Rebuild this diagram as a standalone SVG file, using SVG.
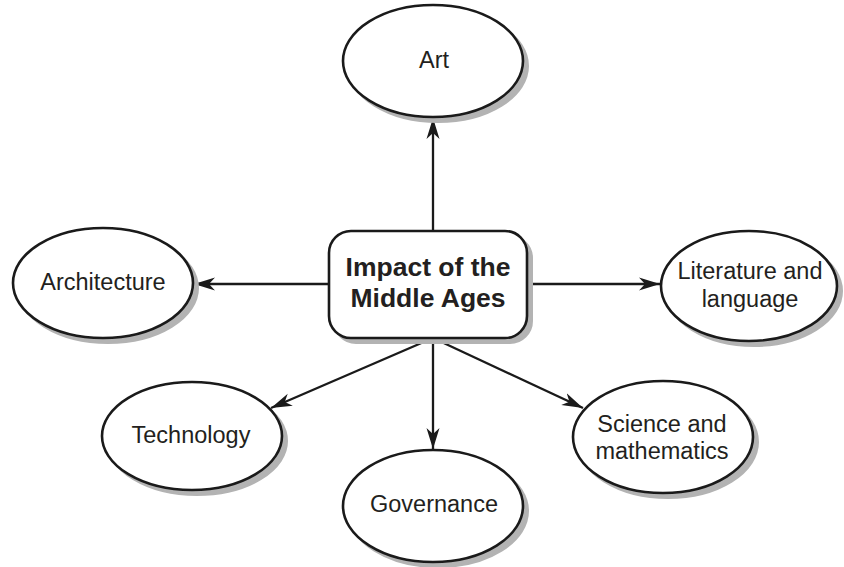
<svg xmlns="http://www.w3.org/2000/svg" width="844" height="567" viewBox="0 0 844 567">
<style>
.shadow{fill:#b3b3b3;stroke:#b3b3b3;stroke-width:2}
.shape{fill:#fff;stroke:#1a1a1a;stroke-width:2.6}
.lbl{font-family:"Liberation Sans",Arial,sans-serif;font-size:23.5px;fill:#231f20;text-anchor:middle}
.title{font-family:"Liberation Sans",Arial,sans-serif;font-size:26.5px;font-weight:bold;fill:#231f20;text-anchor:middle}
.conn{stroke:#1a1a1a;stroke-width:2.3;fill:none;marker-end:url(#ah)}
</style>
<defs>
<marker id="ah" markerUnits="userSpaceOnUse" markerWidth="22" markerHeight="16" viewBox="0 0 22 16" refX="21" refY="8" orient="auto">
<path d="M0,1.5 L21,8 L0,14.5 L6,8 Z" fill="#1a1a1a"/>
</marker>
</defs>
<g id="connectors">
<line class="conn" x1="433" y1="231" x2="433" y2="118"/>
<line class="conn" x1="329" y1="284" x2="194" y2="284"/>
<line class="conn" x1="527" y1="284" x2="660" y2="284"/>
<line class="conn" x1="433" y1="338" x2="271" y2="408"/>
<line class="conn" x1="433" y1="338" x2="433" y2="449"/>
<line class="conn" x1="433" y1="338" x2="583" y2="408"/>
</g>
<g id="center">
<rect class="shadow" x="334" y="236" width="198" height="107" rx="22"/>
<rect class="shape" x="329" y="231" width="198" height="107" rx="22"/>
<text class="title" x="428" y="276">Impact of the</text>
<text class="title" x="428" y="307">Middle Ages</text>
</g>
<g id="art">
<ellipse class="shadow" cx="438" cy="66" rx="90" ry="56"/>
<ellipse class="shape" cx="433" cy="61" rx="90" ry="56"/>
<text class="lbl" x="434" y="68">Art</text>
</g>
<g id="architecture">
<ellipse class="shadow" cx="108" cy="288" rx="90" ry="55"/>
<ellipse class="shape" cx="103" cy="283" rx="90" ry="55"/>
<text class="lbl" x="103" y="290">Architecture</text>
</g>
<g id="literature">
<ellipse class="shadow" cx="754" cy="291" rx="88" ry="55"/>
<ellipse class="shape" cx="749" cy="286" rx="88" ry="55"/>
<text class="lbl" x="750" y="279">Literature and</text>
<text class="lbl" x="750" y="307">language</text>
</g>
<g id="technology">
<ellipse class="shadow" cx="197" cy="441" rx="90" ry="54"/>
<ellipse class="shape" cx="192" cy="436" rx="90" ry="54"/>
<text class="lbl" x="191" y="443">Technology</text>
</g>
<g id="governance">
<ellipse class="shadow" cx="438" cy="511" rx="90" ry="56"/>
<ellipse class="shape" cx="433" cy="506" rx="90" ry="56"/>
<text class="lbl" x="434" y="512">Governance</text>
</g>
<g id="science">
<ellipse class="shadow" cx="668" cy="442" rx="90" ry="56"/>
<ellipse class="shape" cx="663" cy="437" rx="90" ry="56"/>
<text class="lbl" x="662" y="432">Science and</text>
<text class="lbl" x="662" y="459">mathematics</text>
</g>
</svg>
